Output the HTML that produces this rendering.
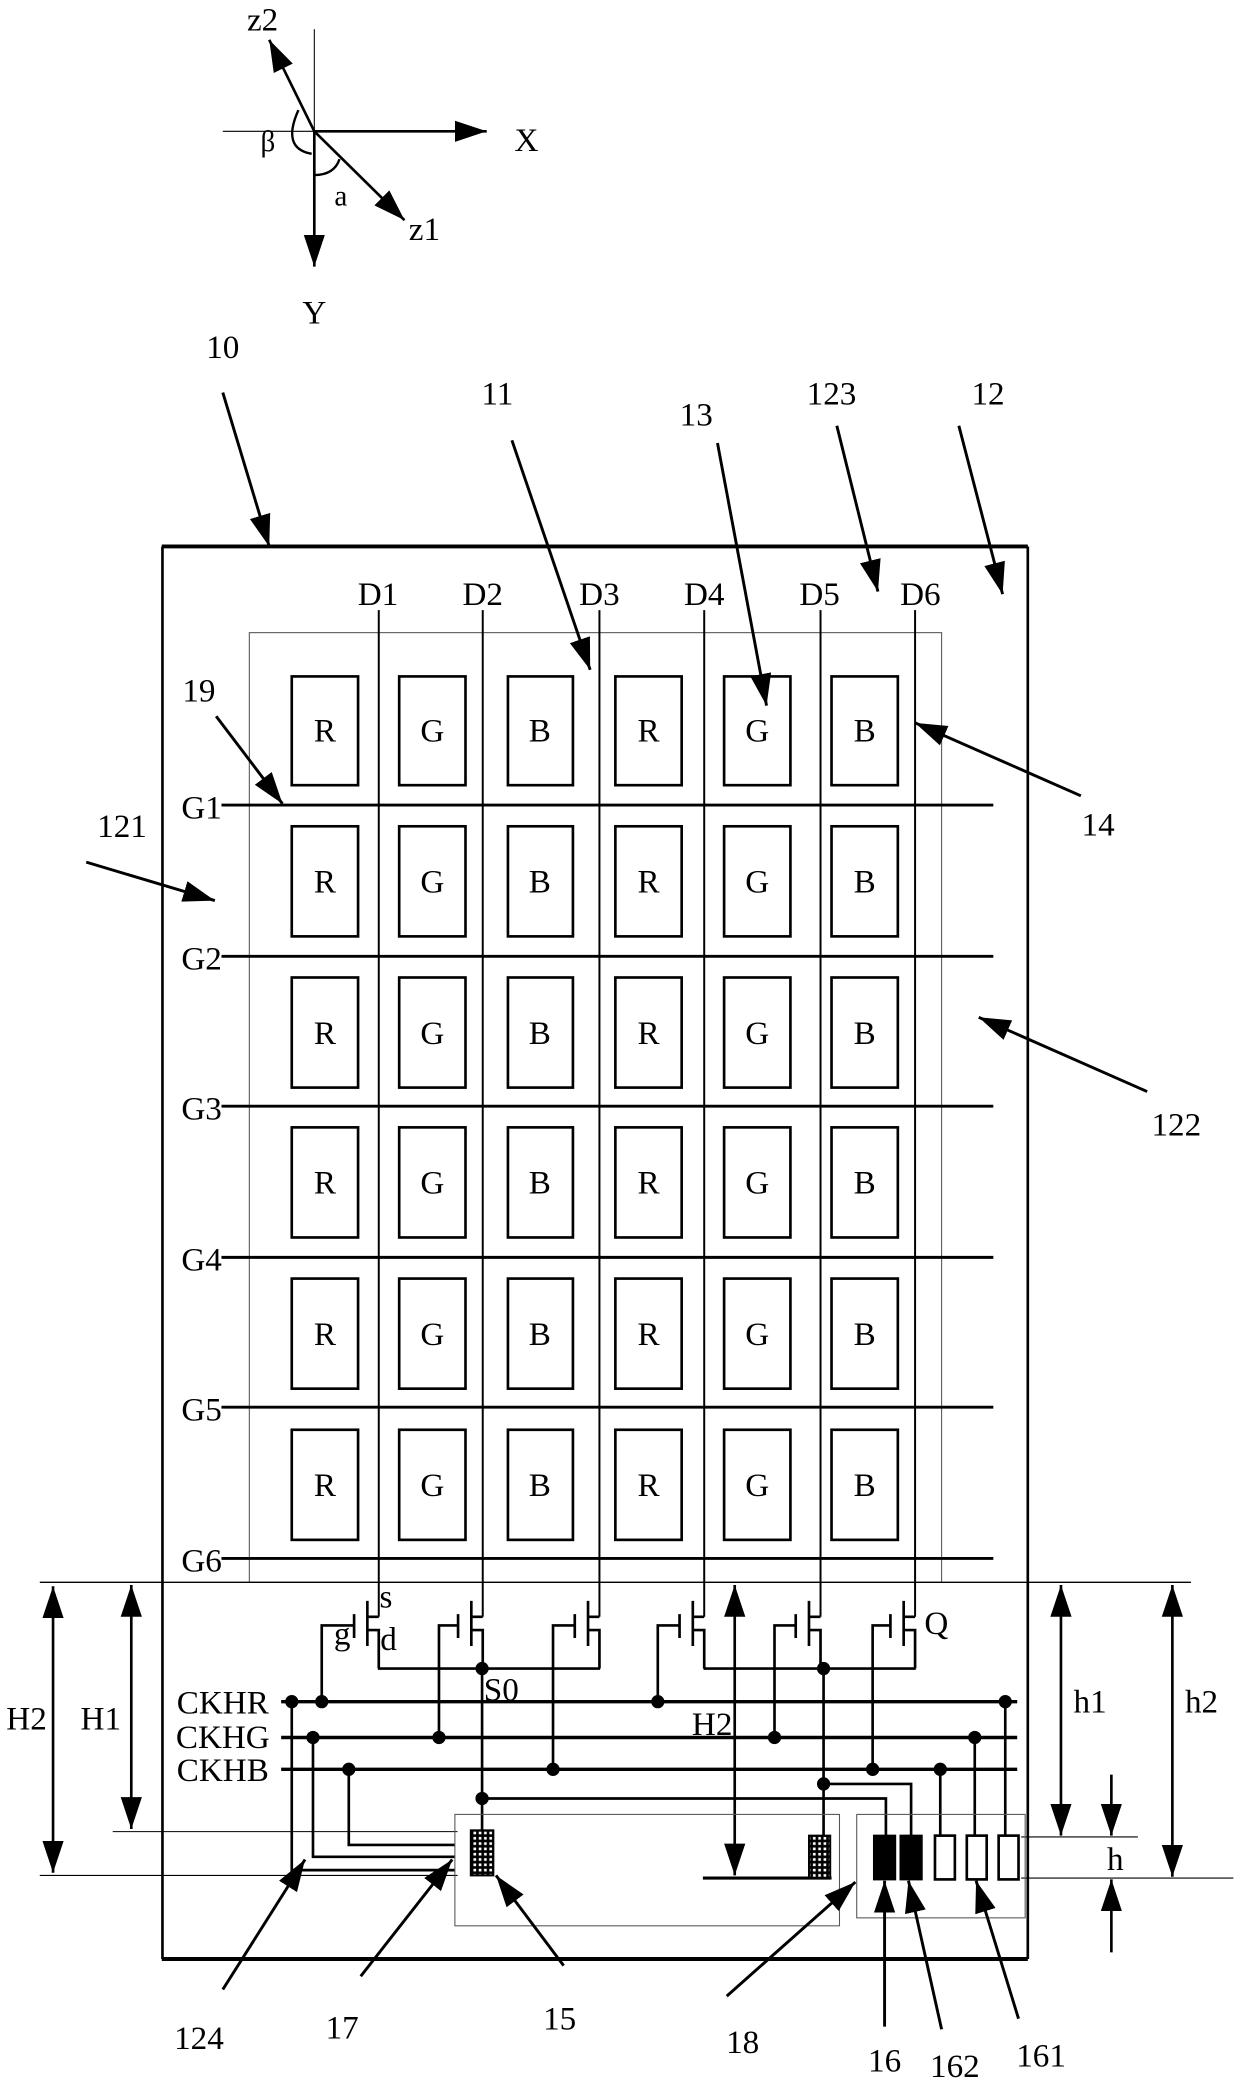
<!DOCTYPE html>
<html><head><meta charset="utf-8"><style>
html,body{margin:0;padding:0;background:#fff;}
svg{display:block;}
text{font-family:"Liberation Serif",serif;fill:#000;}
</style></head><body>
<svg width="1240" height="2081" viewBox="0 0 935 1569" preserveAspectRatio="none" xmlns="http://www.w3.org/2000/svg">
<defs>
<marker id="a" markerUnits="userSpaceOnUse" markerWidth="26" markerHeight="18" refX="24" refY="8" orient="auto-start-reverse" viewBox="0 0 26 16"><path d="M0,0 L24,8 L0,16 z" fill="#000"/></marker>
<pattern id="hp" width="4" height="4" patternUnits="userSpaceOnUse"><rect width="4" height="4" fill="#000"/><rect x="1" y="1" width="2" height="2" fill="#fff"/></pattern>
</defs>
<g stroke="#000" fill="none">
<line x1="237" y1="22" x2="237" y2="99" stroke-width="0.8"/>
<line x1="168" y1="99" x2="237" y2="99" stroke-width="0.8"/>
<line x1="237" y1="99" x2="367" y2="99" stroke-width="2" marker-end="url(#a)"/>
<line x1="237" y1="99" x2="237" y2="201" stroke-width="2" marker-end="url(#a)"/>
<line x1="237" y1="99" x2="203" y2="30" stroke-width="2" marker-end="url(#a)"/>
<line x1="237" y1="99" x2="305" y2="166" stroke-width="2" marker-end="url(#a)"/>
<path d="M225,83 Q212,112 235,116" stroke-width="1.8"/>
<path d="M237,132 Q252,132 256,120" stroke-width="1.8"/>

<line x1="122" y1="412" x2="775" y2="412" stroke-width="3"/>
<line x1="122" y1="1477" x2="775" y2="1477" stroke-width="3"/>
<line x1="122.5" y1="412" x2="122.5" y2="1477" stroke-width="2"/>
<line x1="775" y1="412" x2="775" y2="1477" stroke-width="2"/>
<rect x="188" y="477" width="522" height="716" stroke-width="0.8" stroke="#555"/>
<g stroke-width="1.5">
<line x1="285.6" y1="460" x2="285.6" y2="1219"/>
<line x1="364" y1="460" x2="364" y2="1219"/>
<line x1="452" y1="460" x2="452" y2="1219"/>
<line x1="531" y1="460" x2="531" y2="1219"/>
<line x1="618.7" y1="460" x2="618.7" y2="1219"/>
<line x1="690" y1="460" x2="690" y2="1219"/>
</g>
<g stroke-width="2.2">
<line x1="167" y1="607" x2="749" y2="607"/>
<line x1="167" y1="721" x2="749" y2="721"/>
<line x1="167" y1="834" x2="749" y2="834"/>
<line x1="167" y1="948" x2="749" y2="948"/>
<line x1="167" y1="1061" x2="749" y2="1061"/>
<line x1="167" y1="1175" x2="749" y2="1175"/>
</g>
<g stroke-width="2">
<rect x="220" y="510" width="50" height="82"/><rect x="301" y="510" width="50" height="82"/><rect x="383" y="510" width="49" height="82"/><rect x="464" y="510" width="50" height="82"/><rect x="546" y="510" width="50" height="82"/><rect x="627" y="510" width="50" height="82"/>
<rect x="220" y="623" width="50" height="83"/><rect x="301" y="623" width="50" height="83"/><rect x="383" y="623" width="49" height="83"/><rect x="464" y="623" width="50" height="83"/><rect x="546" y="623" width="50" height="83"/><rect x="627" y="623" width="50" height="83"/>
<rect x="220" y="737" width="50" height="83"/><rect x="301" y="737" width="50" height="83"/><rect x="383" y="737" width="49" height="83"/><rect x="464" y="737" width="50" height="83"/><rect x="546" y="737" width="50" height="83"/><rect x="627" y="737" width="50" height="83"/>
<rect x="220" y="850" width="50" height="83"/><rect x="301" y="850" width="50" height="83"/><rect x="383" y="850" width="49" height="83"/><rect x="464" y="850" width="50" height="83"/><rect x="546" y="850" width="50" height="83"/><rect x="627" y="850" width="50" height="83"/>
<rect x="220" y="964" width="50" height="83"/><rect x="301" y="964" width="50" height="83"/><rect x="383" y="964" width="49" height="83"/><rect x="464" y="964" width="50" height="83"/><rect x="546" y="964" width="50" height="83"/><rect x="627" y="964" width="50" height="83"/>
<rect x="220" y="1078" width="50" height="83"/><rect x="301" y="1078" width="50" height="83"/><rect x="383" y="1078" width="49" height="83"/><rect x="464" y="1078" width="50" height="83"/><rect x="546" y="1078" width="50" height="83"/><rect x="627" y="1078" width="50" height="83"/>
</g>

<line x1="30" y1="1193" x2="898" y2="1193" stroke-width="1"/>
<line x1="85" y1="1381" x2="345" y2="1381" stroke-width="0.8"/>
<line x1="30" y1="1414" x2="345" y2="1414" stroke-width="0.8"/>
<line x1="770" y1="1385" x2="858" y2="1385" stroke-width="0.8"/>
<line x1="770" y1="1416" x2="930" y2="1416" stroke-width="0.8"/>
<line x1="40" y1="1196" x2="40" y2="1412" stroke-width="2" marker-start="url(#a)" marker-end="url(#a)"/>
<line x1="99" y1="1195" x2="99" y2="1379" stroke-width="2" marker-start="url(#a)" marker-end="url(#a)"/>
<line x1="800" y1="1195" x2="800" y2="1384" stroke-width="2" marker-start="url(#a)" marker-end="url(#a)"/>
<line x1="884" y1="1195" x2="884" y2="1415" stroke-width="2" marker-start="url(#a)" marker-end="url(#a)"/>
<line x1="554" y1="1195" x2="554" y2="1414" stroke-width="2" marker-start="url(#a)" marker-end="url(#a)"/>
<line x1="838" y1="1338" x2="838" y2="1384" stroke-width="2" marker-end="url(#a)"/>
<line x1="838" y1="1472" x2="838" y2="1417" stroke-width="2" marker-end="url(#a)"/>

<g stroke-width="2">
<path d="M285.6,1219 H277 M277,1207 V1241 M277,1229 H285.6 V1258 M267,1217 V1235 M267,1225.5 H242.6 V1283"/>
<path d="M364,1219 H355.4 M355.4,1207 V1241 M355.4,1229 H364 V1258 M345.4,1217 V1235 M345.4,1225.5 H331 V1310"/>
<path d="M452,1219 H443.4 M443.4,1207 V1241 M443.4,1229 H452 V1258 M433.4,1217 V1235 M433.4,1225.5 H417 V1334"/>
<path d="M531,1219 H522.4 M522.4,1207 V1241 M522.4,1229 H531 V1258 M512.4,1217 V1235 M512.4,1225.5 H496 V1283"/>
<path d="M618.7,1219 H610 M610,1207 V1241 M610,1229 H618.7 V1258 M600,1217 V1235 M600,1225.5 H584 V1310"/>
<path d="M690,1219 H681.4 M681.4,1207 V1241 M681.4,1229 H690 V1258 M671.4,1217 V1235 M671.4,1225.5 H658 V1334"/>
<line x1="285" y1="1258" x2="452.5" y2="1258"/>
<line x1="530.5" y1="1258" x2="690.5" y2="1258"/>
<line x1="363.5" y1="1258" x2="363.5" y2="1380"/>
<line x1="621" y1="1258" x2="621" y2="1384"/>
<path d="M363.5,1356 H668 V1384"/>
<path d="M621,1345 H687 V1384"/>
<line x1="212" y1="1283" x2="767" y2="1283" stroke-width="2.6"/>
<line x1="212" y1="1310" x2="767" y2="1310" stroke-width="2.6"/>
<line x1="212" y1="1334" x2="767" y2="1334" stroke-width="2.6"/>
<path d="M220,1283 V1410 H343"/>
<path d="M236,1310 V1400 H343"/>
<path d="M263,1334 V1391 H343"/>
<line x1="709" y1="1334" x2="709" y2="1384"/>
<line x1="735" y1="1310" x2="735" y2="1384"/>
<line x1="758" y1="1283" x2="758" y2="1384"/>
<line x1="530" y1="1416" x2="627" y2="1416" stroke-width="2.4"/>
</g>
<g fill="#000" stroke="none">
<circle cx="220" cy="1283" r="5"/><circle cx="242.6" cy="1283" r="5"/><circle cx="496" cy="1283" r="5"/><circle cx="758" cy="1283" r="5"/>
<circle cx="236" cy="1310" r="5"/><circle cx="331" cy="1310" r="5"/><circle cx="584" cy="1310" r="5"/><circle cx="735" cy="1310" r="5"/>
<circle cx="263" cy="1334" r="5"/><circle cx="417" cy="1334" r="5"/><circle cx="658" cy="1334" r="5"/><circle cx="709" cy="1334" r="5"/>
<circle cx="363.5" cy="1258" r="5"/><circle cx="621" cy="1258" r="5"/><circle cx="363.5" cy="1356" r="5"/><circle cx="621" cy="1345" r="5"/>
</g>
<rect x="343" y="1368" width="290" height="84" stroke-width="0.8" stroke="#555"/>
<rect x="646" y="1368" width="127" height="78" stroke-width="0.8" stroke="#555"/>
<rect x="355" y="1380" width="17" height="34" fill="url(#hp)" stroke-width="1.5"/>
<rect x="610" y="1384" width="16" height="32" fill="url(#hp)" stroke-width="1.5"/>
<rect x="659" y="1384" width="16" height="33" fill="#000" stroke-width="1.5"/>
<rect x="679" y="1384" width="16" height="33" fill="#000" stroke-width="1.5"/>
<rect x="705" y="1384" width="15" height="33" stroke-width="2"/>
<rect x="729" y="1384" width="15" height="33" stroke-width="2"/>
<rect x="753" y="1384" width="15" height="33" stroke-width="2"/>

<g stroke-width="2.2">
<line x1="168" y1="296" x2="203" y2="412" marker-end="url(#a)"/>
<line x1="386" y1="332" x2="445" y2="505" marker-end="url(#a)"/>
<line x1="541" y1="334" x2="578" y2="532" marker-end="url(#a)"/>
<line x1="631" y1="321" x2="662" y2="446" marker-end="url(#a)"/>
<line x1="723" y1="321" x2="756" y2="448" marker-end="url(#a)"/>
<line x1="163" y1="540" x2="213" y2="606" marker-end="url(#a)"/>
<line x1="65" y1="650" x2="162" y2="679" marker-end="url(#a)"/>
<line x1="815" y1="600" x2="690" y2="545" marker-end="url(#a)"/>
<line x1="865" y1="823" x2="738" y2="767" marker-end="url(#a)"/>
<line x1="168" y1="1500" x2="230" y2="1402" marker-end="url(#a)"/>
<line x1="272" y1="1490" x2="341" y2="1402" marker-end="url(#a)"/>
<line x1="425" y1="1482" x2="374" y2="1414" marker-end="url(#a)"/>
<line x1="548" y1="1505" x2="645" y2="1419" marker-end="url(#a)"/>
<line x1="667" y1="1528" x2="667" y2="1418" marker-end="url(#a)"/>
<line x1="710" y1="1530" x2="685" y2="1418" marker-end="url(#a)"/>
<line x1="768" y1="1522" x2="736" y2="1418" marker-end="url(#a)"/>
</g>
</g>

<g font-size="25" text-anchor="middle">
<text x="397" y="114">X</text><text x="237" y="244">Y</text>
<text x="198" y="23">z2</text><text x="320" y="181">z1</text>
<text x="202" y="114" font-size="22">β</text><text x="257" y="155" font-size="22">a</text>
<text x="168" y="270">10</text><text x="375" y="305">11</text><text x="525" y="321">13</text>
<text x="627" y="305">123</text><text x="745" y="305">12</text>
<text x="150" y="529">19</text><text x="92" y="631">121</text>
<text x="828" y="630">14</text><text x="887" y="856">122</text>
<text x="285" y="456">D1</text><text x="364" y="456">D2</text><text x="452" y="456">D3</text>
<text x="531" y="456">D4</text><text x="618" y="456">D5</text><text x="694" y="456">D6</text>
<text x="152" y="617">G1</text><text x="152" y="731">G2</text><text x="152" y="844">G3</text>
<text x="152" y="958">G4</text><text x="152" y="1071">G5</text><text x="152" y="1185">G6</text>
<text x="245" y="559">R</text><text x="326" y="559">G</text><text x="407" y="559">B</text><text x="489" y="559">R</text><text x="571" y="559">G</text><text x="652" y="559">B</text>
<text x="245" y="673">R</text><text x="326" y="673">G</text><text x="407" y="673">B</text><text x="489" y="673">R</text><text x="571" y="673">G</text><text x="652" y="673">B</text>
<text x="245" y="787">R</text><text x="326" y="787">G</text><text x="407" y="787">B</text><text x="489" y="787">R</text><text x="571" y="787">G</text><text x="652" y="787">B</text>
<text x="245" y="900">R</text><text x="326" y="900">G</text><text x="407" y="900">B</text><text x="489" y="900">R</text><text x="571" y="900">G</text><text x="652" y="900">B</text>
<text x="245" y="1014">R</text><text x="326" y="1014">G</text><text x="407" y="1014">B</text><text x="489" y="1014">R</text><text x="571" y="1014">G</text><text x="652" y="1014">B</text>
<text x="245" y="1128">R</text><text x="326" y="1128">G</text><text x="407" y="1128">B</text><text x="489" y="1128">R</text><text x="571" y="1128">G</text><text x="652" y="1128">B</text>
<text x="291" y="1212">s</text><text x="293" y="1244">d</text><text x="258" y="1240">g</text>
<text x="706" y="1232">Q</text><text x="378" y="1282">S0</text>
<text x="168" y="1292">CKHR</text><text x="168" y="1318">CKHG</text><text x="168" y="1343">CKHB</text>
<text x="20" y="1304">H2</text><text x="76" y="1304">H1</text><text x="537" y="1308">H2</text>
<text x="822" y="1291">h1</text><text x="906" y="1291">h2</text><text x="841" y="1410">h</text>
<text x="150" y="1545">124</text><text x="258" y="1537">17</text><text x="422" y="1530">15</text>
<text x="560" y="1548">18</text><text x="667" y="1562">16</text><text x="720" y="1566">162</text><text x="785" y="1558">161</text>
</g>
</svg>
</body></html>
